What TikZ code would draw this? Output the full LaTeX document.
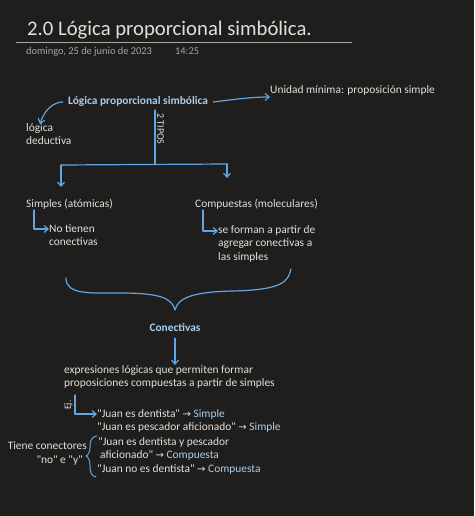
\documentclass[tikz,border=0pt]{standalone}
\usepackage{fontspec}
\setmainfont{Carlito}[Ligatures=TeXOff]
\newfontfamily\symfont{DejaVu Sans}
\usetikzlibrary{arrows.meta}
\definecolor{fondo}{HTML}{201E1C}
\definecolor{tinta}{HTML}{E2E0DC}
\definecolor{gris}{HTML}{A8A6A2}
\definecolor{celeste}{HTML}{A6CFF0}
\definecolor{pluma}{HTML}{5FA6E6}
\tikzset{
  texto/.style={text=tinta, anchor=base west, inner sep=0pt, font=\fontsize{11.4}{13.8}\selectfont},
  clave/.style={text=celeste, inner sep=0pt, font=\fontsize{11.4}{13.8}\selectfont\bfseries},
  trazo/.style={draw=pluma, line width=1.2pt, line cap=round, line join=round},
  flecha/.style={trazo, -{Straight Barb[length=4pt,width=7pt]}},
}
\newcommand{\fl}{{\symfont\fontsize{10}{12}\selectfont →}}
\newcommand{\tipo}[1]{\textcolor{celeste}{#1}}
\begin{document}
\begin{tikzpicture}[x=1pt,y=-1pt]
			%%%%% START %%%%%
			\fill[fondo] (0,0) rectangle (474,516);
			\useasboundingbox (0,0) rectangle (474,516);
			
			\node[texto, font=\fontsize{20.7}{24}\selectfont] (titulo) at (27,36) {2.0 Lógica proporcional simbólica.};
			\draw[gris, line width=0.8pt] (16,42.5) -- (352,42.5);
			\node[texto, text=gris, font=\fontsize{10.4}{12}\selectfont] (fecha) at (26,55) {domingo, 25 de junio de 2023};
			\node[texto, text=gris, font=\fontsize{10.4}{12}\selectfont] (hora) at (175,55) {14:25};
			
			\node[clave] (logica) at (138,101) {Lógica proporcional simbólica};
			\node[texto] (unidad) at (270,94) {Unidad mínima: proposición simple};
			\node[texto, align=left, anchor=north west] (deductiva) at (26,123) {lógica\\deductiva};
			\draw[flecha] (logica.east) ++(5,1) .. controls (230,100) and (250,97) .. (unidad.west |- 0,97);
			\draw[flecha] (logica.west) ++(-5,1) .. controls (55,102) and (45,108) .. (40,124);
			
			\coordinate (raiz) at (155,110);
			\coordinate (codo) at (155,164);
			\draw[trazo] (raiz) -- (codo);
			\node[text=tinta, inner sep=0pt, rotate=-90, font=\fontsize{10}{11}\selectfont] (tipos) at (160.5,129) {2 TIPOS};
			\draw[trazo] (61,165) -- (227,164);
			\draw[flecha] (61,165) -- (61,187);
			\draw[flecha] (227,164) -- (227,178);
			
			\node[texto] (simples) at (26,207) {Simples (atómicas)};
			\node[texto] (compuestas) at (195,207) {Compuestas (moleculares)};
			\node[texto, align=left, anchor=north west] (notienen) at (49,224) {No tienen\\conectivas};
			\node[texto, align=left, anchor=north west] (seforman) at (218,225) {se forman a partir de\\agregar conectivas a\\las simples};
			\draw[flecha] (34,210) -- (34,229) -- (notienen.west |- 0,229);
			\draw[flecha] (203,210) -- (203,231) -- (seforman.west |- 0,231);
			
			\coordinate (punta) at (175,310);
			\draw[trazo] (66,278) .. controls (66,295) and (90,293) .. (120,293)
			  .. controls (160,293) and (172,298) .. (punta)
			  .. controls (178,298) and (192,292) .. (232,291)
			  .. controls (284,290) and (288,281) .. (291,269);
			
			\node[clave] (conectivas) at (175,328) {Conectivas};
			\node[texto, align=left, anchor=north west] (expresiones) at (64,365) {expresiones lógicas que permiten formar\\proposiciones compuestas a partir de simples};
			\draw[flecha] (conectivas.south) ++(0,6) -- (expresiones.north -| conectivas);
			
			\node[text=tinta, inner sep=0pt, rotate=90, font=\fontsize{9.5}{10}\selectfont] (ej) at (68.5,405) {Ej.};
			\node[texto] (ej1) at (97,417) {"Juan es dentista" \fl{} \tipo{Simple}};
			\node[texto] (ej2) at (97,430) {"Juan es pescador aficionado" \fl{} \tipo{Simple}};
			\node[texto] (ej3) at (98,445) {"Juan es dentista y pescador};
			\node[texto] (ej4) at (100,458) {aficionado" \fl{} \tipo{Compuesta}};
			\node[texto] (ej5) at (97,472) {"Juan no es dentista" \fl{} \tipo{Compuesta}};
			\draw[flecha] (75,395) -- (75,414) -- (ej1.west |- 0,414);
			
			\draw[trazo, line width=1pt] (97,436) .. controls (90,437) and (90,443) .. (90,448)
			  .. controls (90,452) and (88,455) .. (86,456)
			  .. controls (88,457) and (90,460) .. (90,465)
			  .. controls (90,472) and (91,476) .. (96,477);
			\node[texto, anchor=base east] (tiene) at (87,449) {Tiene conectores};
			\node[texto, anchor=base east] (noy) at (83,463) {"no" e "y"};
			%%%%% END %%%%%
\end{tikzpicture}
\end{document}
